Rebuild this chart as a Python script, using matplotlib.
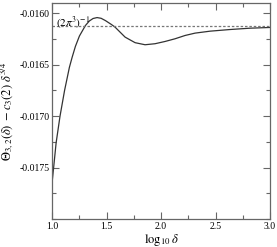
import numpy as np
import matplotlib.pyplot as plt
from matplotlib.ticker import MultipleLocator, FixedLocator, FormatStrFormatter

# curve
log_delta = [1.000, 1.015, 1.037, 1.073, 1.115, 1.159, 1.184, 1.214, 1.251,
             1.306, 1.342, 1.376, 1.413, 1.450, 1.489, 1.544, 1.578, 1.670,
             1.762, 1.853, 1.945, 2.037, 2.128, 2.220, 2.312, 2.450, 2.633,
             2.817, 3.000]
theta = [-0.017647, -0.017492, -0.017260, -0.016999, -0.016748, -0.016525,
         -0.016428, -0.016322, -0.016221, -0.016119, -0.016075, -0.016051,
         -0.016042, -0.016049, -0.016071, -0.016109, -0.016135, -0.016232,
         -0.016286, -0.016306, -0.016296, -0.016274, -0.016248, -0.016216,
         -0.016193, -0.016174, -0.016158, -0.016145, -0.016138]
limit = -1.0 / (2 * np.pi ** 3)
y_major = [-0.0175, -0.0170, -0.0165, -0.0160]

plt.rcParams['font.family'] = ['Liberation Serif', 'DejaVu Serif']
plt.rcParams['mathtext.fontset'] = 'stix'

fig = plt.figure(figsize=(2.77, 2.47), dpi=100)
ax = fig.add_axes([0.188, 0.113, 0.787, 0.875])

ax.plot(log_delta, theta, color='#333333', lw=0.9, solid_joinstyle='round')
ax.axhline(limit, color='#777777', lw=0.9, ls=(0, (2, 1.5)))
ax.text(1.04, -0.01609, r'$(2\pi^3)^{-1}$', fontsize=8, va='center', ha='left')

ax.set_xlim(1.0, 3.0)
ax.set_ylim(-0.0180, -0.0159)
ax.xaxis.set_major_locator(MultipleLocator(0.5))
ax.xaxis.set_minor_locator(MultipleLocator(0.25))
ax.yaxis.set_major_locator(FixedLocator(y_major))
ax.yaxis.set_minor_locator(MultipleLocator(0.00025))
ax.xaxis.set_major_formatter(FormatStrFormatter('%.1f'))
ax.yaxis.set_major_formatter(FormatStrFormatter('%.4f'))

ax.tick_params(which='both', direction='in', top=True, right=True,
               color='#666666', labelsize=7, pad=2)
ax.tick_params(which='major', length=5, width=0.8)
ax.tick_params(which='minor', length=3, width=0.8)
for s in ax.spines.values():
    s.set_color('#666666')
    s.set_linewidth(0.9)

ax.set_xlabel(r'$\log_{10}\delta$', fontsize=9, labelpad=1)
ax.set_ylabel(r'$\Theta_{3,2}(\delta)\ -c_3(2)\ \delta^{3/4}$', fontsize=9, labelpad=2)

fig.savefig('out.png', dpi=100)
